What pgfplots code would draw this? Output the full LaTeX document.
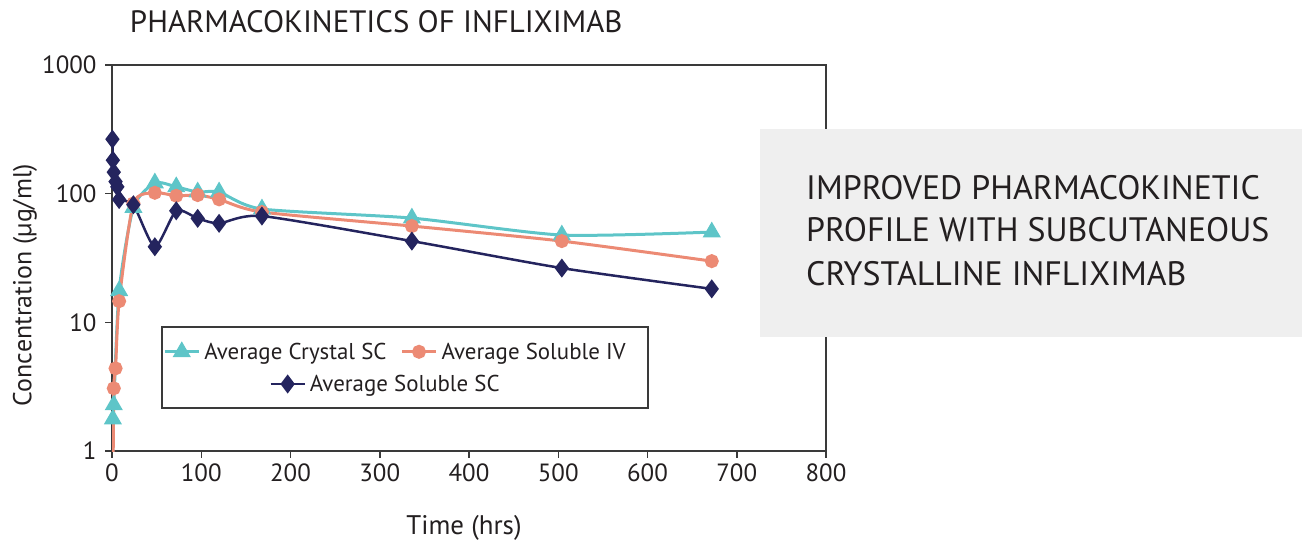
\documentclass[border=0pt]{standalone}
\usepackage{pgfplots}
\pgfplotsset{compat=1.18}
\usepackage{fontspec}
\setmainfont{PT Sans}
\definecolor{teal1}{HTML}{5EC5C8}
\definecolor{salmon1}{HTML}{EC8A74}
\definecolor{navy1}{HTML}{24245E}
\definecolor{boxgray}{HTML}{EFEFEF}
\definecolor{txt}{HTML}{231F20}
\definecolor{axc}{HTML}{3A3A3A}
\begin{document}
\begin{tikzpicture}
\path (0bp,0bp) rectangle (1302bp,-539bp);
\pgfplotsset{
  crys/.style={color=teal1, line width=3bp, mark=triangle*, mark size=7.5bp, mark options={solid}},
  ivs/.style={color=salmon1, line width=3bp, mark=*, mark size=5.5bp, mark options={solid}},
  scs/.style={color=navy1, line width=2.5bp, mark=diamond*, mark size=7.5bp, mark options={solid}},
  myleg/.style={
    legend image code/.code={\draw[mark repeat=2,mark phase=2] plot coordinates {(0bp,0bp) (17bp,0bp) (34bp,0bp)};},
    legend style={draw=none, fill=none, font=\fontsize{23}{26}\selectfont\color{txt}, inner sep=0pt,
      /tikz/every even column/.append style={column sep=10bp}, /tikz/every odd column/.append style={column sep=0bp},
      nodes={inner xsep=4bp}},
  },
  common/.style={
    at={(112bp,-451bp)}, anchor=south west, scale only axis,
    width=714bp, height=386bp,
    xmin=0, xmax=800, ymin=1, ymax=1000,
  }
}
\begin{axis}[common, ymode=log, myleg,
  axis line style={axc, line width=1.5bp},
  tick style={axc, line width=1.5bp},
  major tick length=7bp, tick align=outside,
  xtick pos=left, ytick pos=left, yminorticks=false,
  xtick={0,100,...,800},
  ytick={1,10,100,1000}, yticklabels={1,10,100,1000},
  /pgf/number format/assume math mode=true,
  ticklabel style={font=\fontsize{25}{28}\selectfont, text=txt},
  xticklabel style={yshift=-2bp},
  yticklabel style={xshift=-5bp},
  title={PHARMACOKINETICS OF INFLIXIMAB},
  title style={at={(axis description cs:0.37,1.07)}, anchor=base, font=\fontsize{31}{34}\selectfont, text=txt},
  xlabel={Time (hrs)},
  xlabel style={at={(axis description cs:0.493,-0.2153)}, anchor=base, font=\fontsize{27}{30}\selectfont, text=txt},
  ylabel={Concentration (µg/ml)},
  ylabel style={at={(axis description cs:-0.1218,0.43)}, anchor=center, rotate=0, font=\fontsize{26}{30}\selectfont, text=txt},
  legend columns=2,
  legend style={at={(axis description cs:0.3985,0.257)}, anchor=center},
]
\addplot[crys, smooth, tension=0.4] coordinates {
 (0.3,0.5) (1,1.77) (2,2.28) (8,17.6) (24,78) (48,121) (72,113) (96,103) (120,103) (168,76) (336,64.6) (504,47.7) (672,50.3)};
\addlegendentry{Average Crystal SC}
\addplot[ivs, smooth, tension=0.4] coordinates {
 (1,0.4) (2,3.07) (4,4.39) (8,14.6) (24,84) (48,101.6) (72,96.3) (96,97.5) (120,90.3) (168,72) (336,56) (504,42.8) (672,29.9)};
\addlegendentry{Average Soluble IV}
\addplot[scs, smooth, tension=0.4] coordinates {
 (0.5,265) (1,182) (2,147) (4,124) (6,113) (8,90) (24,82) (48,38.7) (72,73.6) (96,64.3) (120,58.8) (168,67) (336,42.8) (504,26.4) (672,18.2)};
\end{axis}
\begin{axis}[common, hide axis, myleg,
  legend style={at={(axis description cs:0.3845,0.1736)}, anchor=center}]
\addlegendimage{scs}
\addlegendentry{Average Soluble SC}
\end{axis}
\draw[axc, line width=1.5bp] (162bp,-327bp) rectangle (648bp,-408bp);
\fill[boxgray] (760bp,-129bp) rectangle (1302bp,-337bp);
\begin{scope}[every node/.style={anchor=base west, inner sep=0pt, font=\fontsize{34}{40}\selectfont, text=txt}]
\node at (806bp,-200bp) {IMPROVED PHARMACOKINETIC};
\node at (806bp,-242bp) {PROFILE WITH SUBCUTANEOUS};
\node at (806bp,-285bp) {CRYSTALLINE INFLIXIMAB};
\end{scope}
\end{tikzpicture}
\end{document}
